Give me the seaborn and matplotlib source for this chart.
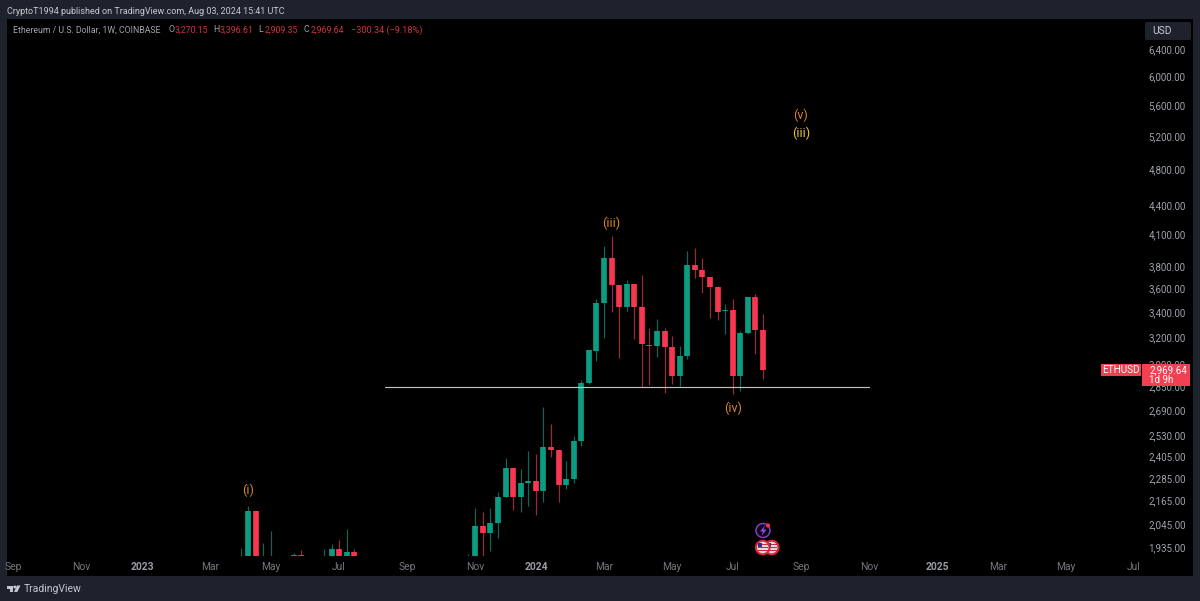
import matplotlib
matplotlib.use("Agg")
import matplotlib.pyplot as plt
import matplotlib.dates as mdates
from matplotlib.patches import Rectangle, Circle, Polygon, FancyBboxPatch
from matplotlib.transforms import ScaledTranslation
import pandas as pd
import seaborn as sns

# ---------- data (weekly candles) ----------
dates = ["2023-04-03","2023-04-10","2023-04-17","2023-04-24","2023-05-01","2023-05-22","2023-05-29",
         "2023-06-19","2023-06-26","2023-07-03","2023-07-10","2023-07-17",
         "2023-10-30","2023-11-06","2023-11-13","2023-11-20","2023-11-27","2023-12-04","2023-12-11",
         "2023-12-18","2023-12-25","2024-01-01","2024-01-08","2024-01-15","2024-01-22","2024-01-29",
         "2024-02-05","2024-02-12","2024-02-19","2024-02-26","2024-03-04","2024-03-11","2024-03-18",
         "2024-03-25","2024-04-01","2024-04-08","2024-04-15","2024-04-22","2024-04-29","2024-05-06",
         "2024-05-13","2024-05-20","2024-05-27","2024-06-03","2024-06-10","2024-06-17","2024-06-24",
         "2024-07-01","2024-07-08","2024-07-15","2024-07-22","2024-07-29"]
opens = [1780,1865,2115,1800,1810,1830,1903,1880,1860,1931,1870,1919,
         1800,1860,2040,2006,2058,2189,2347,2189,2261,2276,2218,2467,2453,2250,
         2283,2503,2879,3110,3490,3884,3642,3454,3648,3454,3156,3146,3264,3136,
         2926,3070,3825,3780,3710,3622,3423,3434,2926,3246,3538,3267]
closes = [1820,2115,1840,1860,1880,1903,1860,1894,1931,1860,1919,1870,
          1850,2040,2006,2058,2189,2347,2189,2261,2276,2218,2467,2453,2250,2283,
          2503,2881,3113,3490,3884,3642,3454,3648,3454,3158,3148,3264,3136,2926,
          3070,3825,3780,3710,3622,3417,3434,2928,3246,3538,3267,2970]
highs = [1938,2139,2115,1961,2017,1914,1925,1933,1956,1972,2025,1933,
         1907,2130,2113,2130,2213,2402,2347,2341,2443,2427,2717,2610,2453,2389,
         2537,2898,3113,3521,4005,4096,3642,3683,3648,3734,3283,3358,3283,3223,
         3146,3951,3983,3888,3710,3636,3482,3521,3264,3538,3567,3396]
lows = [1700,1850,1800,1780,1790,1800,1840,1870,1850,1830,1850,1850,
        1750,1880,1899,1922,1982,2189,2123,2112,2143,2096,2160,2408,2160,2232,
        2263,2473,2870,3034,3204,3417,3058,3423,3199,2851,2867,3066,2812,2874,
        2860,3053,3704,3578,3363,3350,3236,2806,2824,3238,3085,2909]

support_dates = ["2023-08-14","2024-11-04"]
support_price = [2850,2850]

price_ticks = [6400,6000,5600,5200,4800,4400,4100,3800,3600,3400,3200,3000,2850,2690,2530,2405,2285,2165,2045,1935]
price_labels = ["6,400.00","6,000.00","5,600.00","5,200.00","4,800.00","4,400.00","4,100.00","3,800.00",
                "3,600.00","3,400.00","3,200.00","3,000.00","2,850.00","2,690.00","2,530.00","2,405.00",
                "2,285.00","2,165.00","2,045.00","1,935.00"]
month_dates = ["2022-09-05","2022-11-07","2023-01-02","2023-03-06","2023-05-01","2023-07-03","2023-09-04",
               "2023-11-06","2024-01-01","2024-03-04","2024-05-06","2024-07-01","2024-09-02","2024-11-04",
               "2025-01-06","2025-03-03","2025-05-05","2025-07-07"]
month_labels = ["Sep","Nov","2023","Mar","May","Jul","Sep","Nov","2024","Mar","May","Jul","Sep","Nov","2025","Mar","May","Jul"]

wave_text = ["(i)","(iii)","(iv)","(v)","(iii)"]
wave_dates = ["2023-04-10","2024-03-11","2024-07-01","2024-09-02","2024-09-02"]
wave_price = [2223,4225,2708,5483,5251]

# ---------- styling ----------
W, H = 1200, 601
sns.set_theme(style="dark")
plt.rcParams["font.family"] = ["Roboto", "DejaVu Sans"]
SLATE, BLACK = "#1e222d", "#000000"
GREEN, RED = "#0b9c82", "#f7374f"
WICK_G, WICK_R = "#0a6a59", "#9c2a3a"
GREY, LIGHT = "#a0a3ac", "#c8cbd3"

fig = plt.figure(figsize=(W/100, H/100), dpi=100, facecolor=SLATE)
L, R, T, B = 7, 1141, 19, 556
ax = fig.add_axes([L/W, 1-B/H, (R-L)/W, (B-T)/H])
ax.set_facecolor("none")
for s in ax.spines.values():
    s.set_visible(False)
ax.set_yscale("log")

def px_rect(x0, y0, x1, y1, **kw):
    r = Rectangle((x0/W, 1-y1/H), (x1-x0)/W, (y1-y0)/H, transform=fig.transFigure, lw=0, **kw)
    fig.add_artist(r)
    return r

px_rect(7, 19, 1193, 576, fc=BLACK, zorder=-5)

df = pd.DataFrame({"date": pd.to_datetime(dates), "o": opens, "c": closes, "h": highs, "l": lows})
df["dir"] = ["up" if c >= o else "down" for o, c in zip(df.o, df.c)]
df["top"] = df[["o", "c"]].max(axis=1)
df["bot"] = df[["o", "c"]].min(axis=1)

wicks = df.melt(id_vars=["date", "dir"], value_vars=["h", "l"], value_name="price")
bodies = df.melt(id_vars=["date", "dir"], value_vars=["top", "bot"], value_name="price")

sns.lineplot(data=wicks, x="date", y="price", hue="dir", units="date", estimator=None,
             palette={"up": WICK_G, "down": WICK_R}, linewidth=0.85, legend=False,
             solid_capstyle="butt", ax=ax, zorder=2)
sns.lineplot(data=bodies, x="date", y="price", hue="dir", units="date", estimator=None,
             palette={"up": GREEN, "down": RED}, linewidth=4.1, legend=False,
             solid_capstyle="butt", ax=ax, zorder=3)
sup = pd.DataFrame({"date": pd.to_datetime(support_dates), "price": support_price})
sns.lineplot(data=sup, x="date", y="price", color="#bfc1bf", linewidth=0.85, ax=ax, zorder=4)

# x: Jul 29 2024 sits at pixel 763, one week spans 7.57 pixels
ref = mdates.date2num(pd.Timestamp("2024-07-29"))
ax.set_xlim(ref + (L-763)/7.57*7, ref + (R-763)/7.57*7)
ax.set_ylim(1899, 6906)
ax.set_xlabel(""); ax.set_ylabel("")
ax.grid(False)

ax.set_xticks(mdates.date2num(pd.to_datetime(month_dates)))
ax.set_xticklabels(month_labels)
ax.tick_params(axis="x", length=0, pad=4, labelsize=7.4, colors="#74777f")
for t in ax.get_xticklabels():
    if t.get_text().isdigit():
        t.set_fontweight("bold")
        t.set_color("#9a9da6")

ax.yaxis.tick_right()
ax.set_yticks(price_ticks)
ax.set_yticklabels(price_labels)
ax.yaxis.set_minor_locator(matplotlib.ticker.NullLocator())
ax.tick_params(axis="y", length=0, pad=5.2, labelsize=7, colors=GREY)
lift = ScaledTranslation(0, 0.013, fig.dpi_scale_trans)
for t in ax.get_yticklabels():
    t.set_transform(t.get_transform() + lift)

for txt, d, p, i in zip(wave_text, wave_dates, wave_price, range(5)):
    ax.text(pd.Timestamp(d), p, txt, color="#f0c33a" if i == 4 else "#d9862a",
            fontsize=9, ha="center", va="center", zorder=6)

# ---------- header ----------
def ftext(x, y, s, **kw):
    kw.setdefault("va", "center")
    kw.setdefault("fontsize", 6.45)
    fig.text(x/W, 1-y/H, s, **kw)

ftext(7, 11, "CryptoT1994 published on TradingView.com, Aug 03, 2024 15:41 UTC", color=LIGHT)
ftext(13, 30, "Ethereum / U.S. Dollar, 1W, COINBASE", color=GREY, fontsize=6.35)
DR = "#d0323f"
for x, lab, val in [(168, "O", "3,270.15"), (213, "H", "3,396.61"), (258, "L", "2,909.35"), (304, "C", "2,969.64")]:
    ftext(x, 30, lab, color=GREY, fontsize=6.35)
    ftext(x+6.5, 30, val, color=DR, fontsize=6.35)
ftext(351, 30, "\u2212300.34 (\u22129.18%)", color=DR, fontsize=6.6)

# USD button
fig.add_artist(FancyBboxPatch((1145/W, 1-40/H), 46/W, 18/H, boxstyle="round,pad=0,rounding_size=0.002",
                              transform=fig.transFigure, fc="#1e222d", ec="none", zorder=3))
ftext(1152, 31, "USD", color=LIGHT, fontsize=7.4, zorder=4)

# price tags
px_rect(1101, 364, 1141, 376, fc="#f23f52", zorder=2)
px_rect(1142, 364, 1190, 386, fc="#f23f52", zorder=2)
ftext(1121, 370, "ETHUSD", color="white", ha="center", fontsize=7.2, zorder=4)
ftext(1149, 370, "2,969.64", color="white", fontsize=7, zorder=4)
ftext(1149, 380, "1d 9h", color="white", fontsize=7, zorder=4)

# event icons
def circ(x, y, r, **kw):
    c = Circle((x, y), r, transform=px.transData, **kw)
    px.add_patch(c)
    return c

px = fig.add_axes([0, 0, 1, 1], zorder=5)
px.set_xlim(0, W); px.set_ylim(H, 0); px.axis("off"); px.patch.set_alpha(0)
circ(763, 530.5, 7, fc="#10061c", ec="#7b3fc4", lw=1.1)
px.add_patch(Polygon([(765, 525.5), (760, 531.5), (763, 531.5), (761.5, 536), (766.5, 529.5), (763.5, 529.5)], fc="#8e4fd8", lw=0))
circ(768, 525.5, 2.1, fc="#f0344a", lw=0)
for cx in (771.7, 762.7):
    circ(cx, 547.5, 6.8, fc="#dcdce2", ec="#d8283c", lw=1.5)
    for dy in (-3, 0, 3):
        px.add_patch(Rectangle((cx-5, 547.5+dy-0.6), 10, 1.2, fc="#c92c40", lw=0))
    px.add_patch(Rectangle((cx-5, 543), 4.5, 3.5, fc="#27368c", lw=0))

# logo
LOGO = "#c4c7cf"
px.add_patch(Polygon([(7, 585.5), (13, 585.5), (13, 592), (10, 592), (10, 588.5), (7, 588.5)], fc=LOGO, lw=0))
circ(14.8, 587, 1.5, fc=LOGO, lw=0)
px.add_patch(Polygon([(14, 592), (17, 585.5), (20.5, 585.5), (17.3, 592)], fc=LOGO, lw=0))
px.text(24, 589.5, "TradingView", color=LOGO, fontsize=7.5, va="center", family="Roboto")

fig.savefig("out.png", dpi=100, facecolor=SLATE)
